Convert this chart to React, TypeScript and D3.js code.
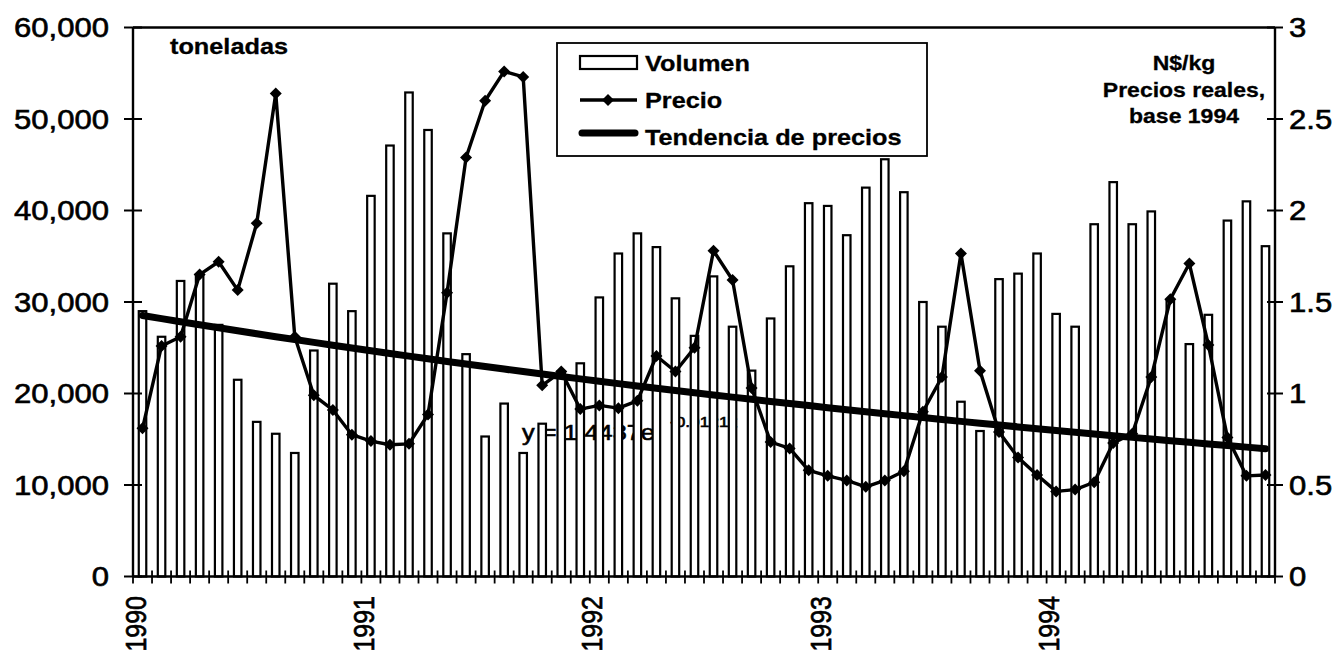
import React from 'react';
import * as d3 from 'd3';

// ---- data ----
const years = [1990, 1991, 1992, 1993, 1994];
const monthsPerYear = 12;
const categories = years.flatMap((y) => d3.range(monthsPerYear).map((m) => `${y}-${String(m + 1).padStart(2, '0')}`));

const volume = [
  29000, 26200, 32300, 33000, 27500, 21500, 16900, 15600, 13500, 24700, 32000, 29000,
  41600, 47100, 52900, 48800, 37500, 24300, 15300, 18900, 13500, 16700, 22400, 23300,
  30500, 35300, 37500, 36000, 30400, 26300, 32800, 27300, 22500, 28200, 33900, 40800,
  40500, 37300, 42500, 45600, 42000, 30000, 27300, 19100, 15900, 32500, 33100, 35300,
  28700, 27300, 38500, 43100, 38500, 39900, 30100, 25400, 28600, 38900, 41000, 36100,
];

const price = [
  0.81, 1.26, 1.31, 1.65, 1.72, 1.565, 1.93, 2.64, 1.31, 0.99, 0.91, 0.775,
  0.74, 0.72, 0.725, 0.885, 1.55, 2.29, 2.6, 2.76, 2.73, 1.045, 1.12, 0.915,
  0.935, 0.92, 0.96, 1.205, 1.12, 1.25, 1.78, 1.62, 1.03, 0.735, 0.7, 0.58,
  0.55, 0.525, 0.49, 0.525, 0.575, 0.9, 1.09, 1.765, 1.125, 0.79, 0.65, 0.555,
  0.465, 0.475, 0.515, 0.73, 0.78, 1.09, 1.515, 1.71, 1.265, 0.76, 0.55, 0.555,
];

// trend equation shown on the chart: y = 1.4437 e^(-0.0121 x)
const trendA = 1.4437;
const trendB = -0.0121;

const leftTicks = [0, 10000, 20000, 30000, 40000, 50000, 60000];
const rightTicks = [0, 0.5, 1, 1.5, 2, 2.5, 3];

// ---- layout ----
const W = 1341;
const H = 654;
const P = { left: 133, right: 1275, top: 27.5, bottom: 576.5 };
const FONT = "'Liberation Sans', Arial, Helvetica, sans-serif";
const SX = 1.15;

function T({ x, y, size, weight = 'normal', anchor = 'start', rotate = false, thick = 0.6, children }: any) {
  const tr = rotate
    ? `translate(${x},${y}) scale(${SX},1) rotate(-90)`
    : `translate(${x},${y}) scale(${SX},1)`;
  return (
    <text
      transform={tr}
      fontSize={size}
      fontWeight={weight}
      textAnchor={anchor}
      fontFamily={FONT}
      fill="#000"
      stroke="#000"
      strokeWidth={thick}
    >
      {children}
    </text>
  );
}

const diamond = (r: number) => `M0,${-r}L${r},0L0,${r}L${-r},0Z`;

export default function App() {
  const x = d3.scaleBand<string>().domain(categories).range([P.left, P.right]).padding(0);
  const yL = d3.scaleLinear().domain([0, 60000]).range([P.bottom, P.top]);
  const yR = d3.scaleLinear().domain([0, 3]).range([P.bottom, P.top]);
  const cx = (i: number) => (x(categories[i]) as number) + x.bandwidth() / 2;
  const barW = 7.5;

  const trend = categories.map((_, i) => trendA * Math.exp(trendB * (i + 1)));
  const line = d3
    .line<number>()
    .x((_, i) => cx(i))
    .y((d) => yR(d));

  const fmt = d3.format(',');

  return (
    <svg
      width={W}
      height={H}
      viewBox={`0 0 ${W} ${H}`}
      style={{ position: 'absolute', left: 0, top: 0, background: '#fff' }}
    >
      <rect x={0} y={0} width={W} height={H} fill="#fff" />

      {/* equation (behind the bars) */}
      <T x={522} y={440} size={22}>y = 1.4437e</T>
      <T x={670} y={427} size={15}>-0.0121x</T>

      {/* bars */}
      {volume.map((v, i) => (
        <rect
          key={i}
          x={cx(i) - barW / 2}
          y={yL(v)}
          width={barW}
          height={yL(0) - yL(v)}
          fill="#fff"
          stroke="#000"
          strokeWidth={2.2}
        />
      ))}

      {/* trend */}
      <path d={line(trend) as string} fill="none" stroke="#000" strokeWidth={7} strokeLinecap="round" strokeLinejoin="round" />

      {/* price */}
      <path d={line(price) as string} fill="none" stroke="#000" strokeWidth={3.4} strokeLinejoin="round" />
      {price.map((p, i) => (
        <path key={i} d={diamond(6)} transform={`translate(${cx(i)},${yR(p)})`} fill="#000" />
      ))}

      {/* frame */}
      <line x1={P.left} x2={P.right} y1={P.top} y2={P.top} stroke="#000" strokeWidth={2.4} />
      <line x1={P.left} x2={P.right} y1={P.bottom} y2={P.bottom} stroke="#000" strokeWidth={2.4} />
      <line x1={P.left} x2={P.left} y1={P.top} y2={P.bottom} stroke="#000" strokeWidth={2.4} />
      <line x1={P.right} x2={P.right} y1={P.top} y2={P.bottom} stroke="#000" strokeWidth={2.4} />

      {/* left axis */}
      {leftTicks.map((t) => (
        <g key={t}>
          <line x1={P.left - 9} x2={P.left + 9} y1={yL(t)} y2={yL(t)} stroke="#000" strokeWidth={2} />
          <T x={109} y={yL(t) + 9.5} size={27} anchor="end">{fmt(t)}</T>
        </g>
      ))}

      {/* right axis */}
      {rightTicks.map((t) => (
        <g key={t}>
          <line x1={P.right - 8} x2={P.right + 8} y1={yR(t)} y2={yR(t)} stroke="#000" strokeWidth={2} />
          <T x={1289} y={yR(t) + 9.5} size={27}>{String(t)}</T>
        </g>
      ))}

      {/* x axis ticks between months */}
      {d3.range(categories.length + 1).map((k) => {
        const xx = P.left + k * x.step();
        return <line key={k} x1={xx} x2={xx} y1={P.bottom - 6} y2={P.bottom + 7} stroke="#000" strokeWidth={1.8} />;
      })}

      {/* year labels */}
      {years.map((yr, j) => (
        <T key={yr} x={cx(j * monthsPerYear) + 3} y={596} size={25} anchor="end" rotate>
          {String(yr)}
        </T>
      ))}

      {/* annotations */}
      <T x={170} y={54} size={22} weight="bold" thick={0.3}>toneladas</T>
      <T x={1184} y={70} size={20} weight="bold" anchor="middle" thick={0.3}>N$/kg</T>
      <T x={1184} y={97} size={20} weight="bold" anchor="middle" thick={0.3}>Precios reales,</T>
      <T x={1184} y={123} size={20} weight="bold" anchor="middle" thick={0.3}>base 1994</T>

      {/* legend */}
      <g>
        <rect x={557} y={43} width={370} height={113} fill="#fff" stroke="#000" strokeWidth={1.8} />
        <rect x={580} y={56} width={57} height={13} fill="#fff" stroke="#000" strokeWidth={2.2} />
        <T x={645} y={71} size={22} weight="bold" thick={0.3}>Volumen</T>
        <line x1={580} x2={637} y1={100} y2={100} stroke="#000" strokeWidth={3.4} />
        <path d={diamond(6)} transform="translate(608,100)" fill="#000" />
        <T x={645} y={108} size={22} weight="bold" thick={0.3}>Precio</T>
        <line x1={582} x2={635} y1={133} y2={133} stroke="#000" strokeWidth={7} strokeLinecap="round" />
        <T x={645} y={145} size={22} weight="bold" thick={0.3}>Tendencia de precios</T>
      </g>
    </svg>
  );
}
